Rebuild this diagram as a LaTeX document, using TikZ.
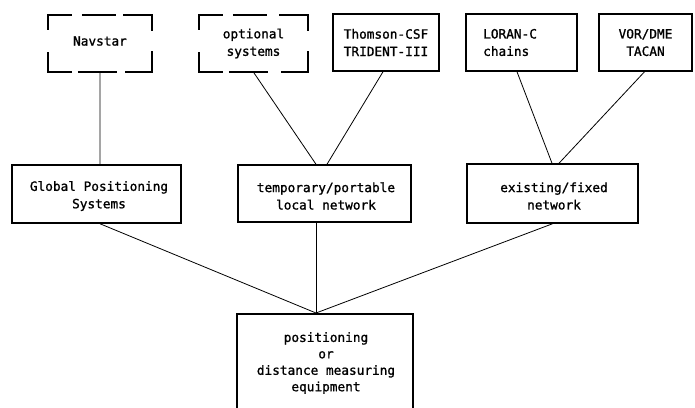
\documentclass[tikz,border=0pt]{standalone}
\usepackage{fontspec}
\setmainfont{DejaVu Sans Mono}[BoldFont=DejaVu Sans Mono, BoldFeatures={FakeBold=1.2}]
\usetikzlibrary{calc}
\tikzset{
  box/.style={rectangle, draw, line width=1.5bp, inner sep=0pt, align=center,
    font=\fontsize{12.8}{17.5}\selectfont\bfseries},
  dbox/.style={rectangle, inner sep=0pt, align=center,
    font=\fontsize{12.8}{17.5}\selectfont\bfseries},
  dpiece/.style={line width=1.5bp},
  conn/.style={line width=0.8bp}
}
\newcommand\dashedframe[1]{%
  \draw[dpiece] ($(#1.north west)+(0,15)$) -- (#1.north west) -- ($(#1.north west)+(24,0)$);
  \draw[dpiece] ($(#1.north west)+(34,0)$) -- ($(#1.north west)+(68,0)$);
  \draw[dpiece] ($(#1.north east)+(-29,0)$) -- (#1.north east) -- ($(#1.north east)+(0,16)$);
  \draw[dpiece] ($(#1.south west)+(0,-20)$) -- (#1.south west) -- ($(#1.south west)+(24,0)$);
  \draw[dpiece] ($(#1.south west)+(30,0)$) -- ($(#1.south west)+(69,0)$);
  \draw[dpiece] ($(#1.south east)+(-27,0)$) -- (#1.south east) -- ($(#1.south east)+(0,-21)$);
}
\begin{document}
\begin{tikzpicture}[x=1bp,y=-1bp]
\useasboundingbox (0,0) rectangle (695,407);
\clip (0,0) rectangle (695,407);
% top row
\node[dbox, minimum width=104bp, minimum height=57bp] (nav) at (100,43.5) {};
\node[dbox] (navt) at (100,41) {Navstar};
\dashedframe{nav}
\node[dbox, minimum width=109bp, minimum height=57bp] (opt) at (253.5,43.5) {optional\\systems};
\dashedframe{opt}
\node[box, minimum width=106bp, minimum height=57bp] (tho) at (386,42.5) {Thomson-CSF\\TRIDENT-III};
\node[box, minimum width=111bp, minimum height=57bp] (lor) at (521.5,42.5) {};
\node[dbox, align=left, anchor=west] (lort) at (483,42.5) {LORAN-C\\chains};
\node[box, minimum width=93bp, minimum height=57bp] (vor) at (645.5,42.5) {VOR/DME\\TACAN};
% middle row
\node[box, minimum width=169bp, minimum height=58bp] (gps) at (96.5,194) {};
\node[dbox] (gpst) at (99,196) {Global Positioning\\Systems};
\node[box, minimum width=173bp, minimum height=57bp] (tmp) at (324.5,193.5) {};
\node[dbox] (tmpt) at (326,196) {temporary/portable\\local network};
\node[box, minimum width=171bp, minimum height=59bp] (ext) at (552.5,193.5) {};
\node[dbox] (extt) at (554,196) {existing/fixed\\network};
% bottom
\node[box, minimum width=176bp, minimum height=110bp, anchor=north] (eq) at (325,313) {};
\node[dbox, anchor=north, font=\fontsize{12.8}{16.5}\selectfont\bfseries] (eqt) at (326,332) {positioning\\or\\distance measuring\\equipment};
% connectors
\draw[conn] (nav.south) -- ([xshift=3.5bp]gps.north);
\draw[conn] (opt.south) -- ([xshift=-8.5bp]tmp.north);
\draw[conn] ([xshift=-3bp]tho.south) -- ([xshift=2.5bp]tmp.north);
\draw[conn] ([xshift=-4.5bp]lor.south) -- ([xshift=-0.5bp]ext.north);
\draw[conn] ([xshift=-1bp]vor.south) -- ([xshift=6.5bp]ext.north);
\draw[conn] ([xshift=3.5bp]gps.south) -- ([xshift=-9bp]eq.north);
\draw[conn] ([xshift=-8.5bp]tmp.south) -- ([xshift=-9bp]eq.north);
\draw[conn] (ext.south) -- ([xshift=-9bp]eq.north);
\end{tikzpicture}
\end{document}
